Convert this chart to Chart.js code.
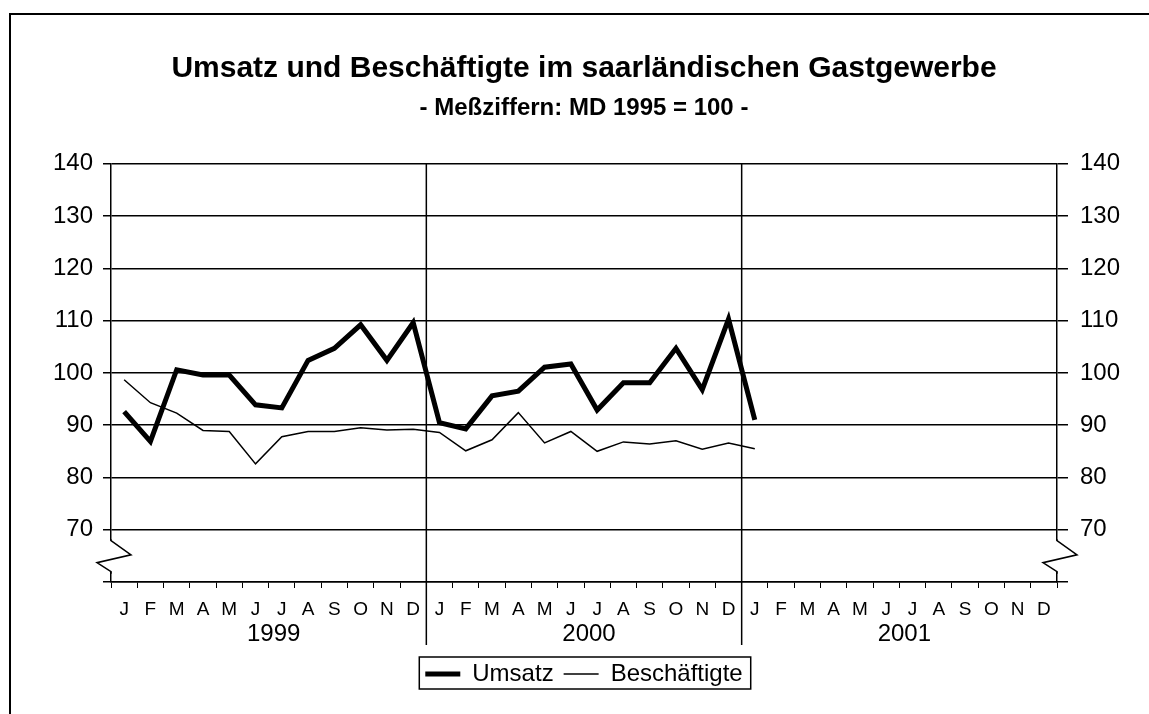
<!DOCTYPE html>
<html>
<head>
<meta charset="utf-8">
<script src="https://cdn.jsdelivr.net/npm/chart.js@4/dist/chart.umd.min.js"></script>
<style>
  body { margin: 0; background: #fff; }
  #wrap { position: relative; width: 1149px; height: 714px; overflow: hidden; }
  #frame { position: absolute; left: 9px; top: 13px; width: 2000px; height: 2000px;
           border-left: 2px solid #000; border-top: 2px solid #000; }
  #myChart { position: absolute; left: 0; top: 0; }
</style>
</head>
<body>
<div id="wrap">
  <div id="frame"></div>
  <canvas id="myChart" width="1149" height="714"></canvas>
</div>
<script>
const monthLetters = ['J', 'F', 'M', 'A', 'M', 'J', 'J', 'A', 'S', 'O', 'N', 'D'];
const years = ['1999', '2000', '2001'];

// Meßziffern, Jan 1999 .. Jan 2001
const umsatz = [92.6, 86.9, 100.6, 99.6, 99.6, 93.9, 93.3, 102.4, 104.7, 109.2, 102.4, 109.6,
                90.5, 89.3, 95.6, 96.5, 101.1, 101.7, 92.9, 98.1, 98.1, 104.7, 96.8, 110.3,
                91.0];
const beschaeftigte = [98.7, 94.3, 92.3, 89.0, 88.8, 82.6, 87.8, 88.8, 88.8, 89.5, 89.1, 89.2,
                       88.6, 85.1, 87.2, 92.4, 86.6, 88.8, 85.0, 86.8, 86.4, 87.0, 85.4, 86.6,
                       85.5];
const yTicks = [70, 80, 90, 100, 110, 120, 130, 140];

const labels = [];
years.forEach(() => monthLetters.forEach(m => labels.push(m)));

const FONT = '"Liberation Sans", Arial, Helvetica, sans-serif';
Chart.defaults.color = '#000';
Chart.defaults.font.family = FONT;

// year separators, year labels, axis breaks, legend frame
const extras = {
  id: 'extras',
  afterDraw(chart) {
    const ctx = chart.ctx;
    const x = chart.scales.x;
    const y = chart.scales.y;
    const area = chart.chartArea;
    ctx.save();
    ctx.strokeStyle = '#000';
    ctx.fillStyle = '#000';

    // vertical lines between years
    ctx.lineWidth = 1.5;
    [12, 24].forEach(i => {
      const px = (x.getPixelForValue(i - 1) + x.getPixelForValue(i)) / 2;
      ctx.beginPath();
      ctx.moveTo(px, area.top);
      ctx.lineTo(px, area.bottom + 63);
      ctx.stroke();
    });

    // year labels
    ctx.font = '24px ' + FONT;
    ctx.textAlign = 'center';
    ctx.textBaseline = 'middle';
    years.forEach((yr, k) => {
      const px = (x.getPixelForValue(k * 12 + 5) + x.getPixelForValue(k * 12 + 6)) / 2 + 5;
      ctx.fillText(yr, px, area.bottom + 52);
    });

    // axis break symbols
    [area.left, area.right].forEach(ax => {
      ctx.fillStyle = '#fff';
      ctx.fillRect(ax - 2, y.getPixelForValue(67.9), 4, y.getPixelForValue(62.0) - y.getPixelForValue(67.9));
      ctx.lineWidth = 1.5;
      ctx.beginPath();
      ctx.moveTo(ax, y.getPixelForValue(68.2));
      ctx.lineTo(ax, y.getPixelForValue(67.9));
      ctx.lineTo(ax + 20, y.getPixelForValue(65.2));
      ctx.lineTo(ax - 14, y.getPixelForValue(63.7));
      ctx.lineTo(ax, y.getPixelForValue(62.0));
      ctx.lineTo(ax, y.getPixelForValue(61.6));
      ctx.stroke();
    });

    // frame around the legend
    const boxes = chart.legend.legendHitBoxes;
    if (boxes && boxes.length) {
      const l = Math.min(...boxes.map(b => b.left)) - 6;
      const r = Math.max(...boxes.map(b => b.left + b.width)) + 8;
      const t = Math.min(...boxes.map(b => b.top)) - 5;
      const bt = Math.max(...boxes.map(b => b.top + b.height)) + 3;
      ctx.lineWidth = 1.5;
      ctx.strokeRect(l, t, r - l, bt - t);
    }
    ctx.restore();
  }
};

const ctx = document.getElementById('myChart').getContext('2d');
new Chart(ctx, {
  type: 'line',
  data: {
    labels,
    datasets: [
      {
        label: 'Umsatz',
        data: umsatz,
        borderColor: '#000',
        backgroundColor: '#000',
        borderWidth: 5,
        pointRadius: 0,
        tension: 0,
        yAxisID: 'y'
      },
      {
        label: 'Beschäftigte',
        data: beschaeftigte,
        borderColor: '#000',
        backgroundColor: '#000',
        borderWidth: 1.5,
        pointRadius: 0,
        tension: 0,
        yAxisID: 'y'
      }
    ]
  },
  options: {
    responsive: false,
    animation: false,
    layout: { padding: { top: 32, left: 19, right: 0, bottom: 18 } },
    plugins: {
      title: {
        display: true,
        text: 'Umsatz und Beschäftigte im saarländischen Gastgewerbe',
        font: { size: 30, weight: 'bold' },
        padding: { top: 19, bottom: 3 }
      },
      subtitle: {
        display: true,
        text: '- Meßziffern: MD 1995 = 100 -',
        font: { size: 24, weight: 'bold' },
        color: '#000',
        padding: { top: 4, bottom: 41 }
      },
      legend: {
        position: 'bottom',
        labels: {
          usePointStyle: true,
          pointStyle: 'line',
          pointStyleWidth: 35,
          font: { size: 24 },
          padding: 10
        }
      },
      tooltip: { enabled: false }
    },
    scales: {
      x: {
        offset: true,
        grid: { offset: true, drawOnChartArea: false, drawTicks: true, tickLength: 6, color: '#000', lineWidth: 1 },
        border: { display: true, color: '#000', width: 1.5 },
        ticks: { font: { size: 19 }, padding: 10, maxRotation: 0, autoSkip: false },
        afterFit(scale) { scale.height = 70; }
      },
      y: {
        position: 'left',
        min: 60,
        max: 140,
        afterBuildTicks(scale) { scale.ticks = [60, ...yTicks].map(v => ({ value: v })); },
        ticks: { font: { size: 24 }, padding: 10, callback: v => (yTicks.includes(v) ? v : '') },
        grid: { color: '#000', lineWidth: 1.5, tickLength: 8 },
        border: { display: true, color: '#000', width: 1.5 },
        afterFit(scale) { scale.width = 92; }
      },
      y2: {
        position: 'right',
        min: 60,
        max: 140,
        afterBuildTicks(scale) { scale.ticks = [60, ...yTicks].map(v => ({ value: v })); },
        ticks: { font: { size: 24 }, padding: 12, callback: v => (yTicks.includes(v) ? v : '') },
        grid: { drawOnChartArea: false, color: '#000', lineWidth: 1.5, tickLength: 11 },
        border: { display: true, color: '#000', width: 1.5 },
        afterFit(scale) { scale.width = 92; }
      }
    }
  },
  plugins: [extras]
});
</script>
</body>
</html>
